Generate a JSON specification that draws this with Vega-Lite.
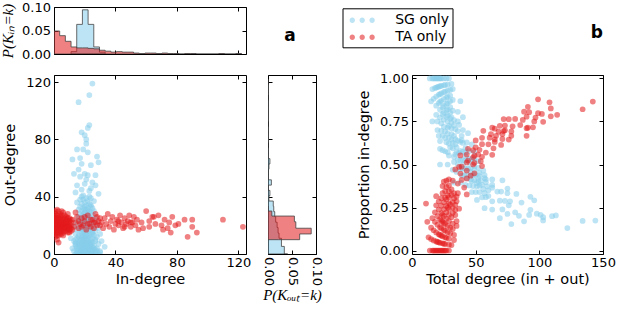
{
"$schema":"https://vega.github.io/schema/vega-lite/v6.json",
"background":"white",
"padding":{"left":0,"top":0,"right":0,"bottom":0},
"autosize":{"type":"pad"},
"columns":3,
"bounds":"flush",
"align":"each",
"spacing":{"row":21,"column":22},
"resolve":{"scale":{"color":"independent"},"legend":{"color":"independent"}},
"config":{
  "view":{"stroke":"black","strokeWidth":1},
  "axis":{"domain":false,"grid":false,"tickColor":"black","tickSize":4,"tickWidth":1,"labelFont":"DejaVu Sans","labelFontSize":13,"labelColor":"black","titleFont":"DejaVu Sans","titleFontSize":14.5,"titleFontWeight":"normal","titleColor":"black","labelFlush":false,"labelOverlap":false,"labelBound":false},
  "axisX":{"labelPadding":2.5,"titlePadding":3},
  "axisY":{"labelPadding":3.5,"titlePadding":8},
  "title":{"font":"DejaVu Sans","fontSize":17,"fontWeight":"bold","color":"black"}
},
"datasets":{
"hin":[
{"g":"SG only","k":11.1,"p":0.005},{"g":"SG only","k":14.8,"p":0.063},{"g":"SG only","k":18.5,"p":0.094},{"g":"SG only","k":22.2,"p":0.063},{"g":"SG only","k":25.9,"p":0.015},{"g":"SG only","k":29.6,"p":0.004},{"g":"SG only","k":33.3,"p":0},
{"g":"TA only","k":0,"p":0.049},{"g":"TA only","k":3.7,"p":0.039},{"g":"TA only","k":7.4,"p":0.027},{"g":"TA only","k":11.1,"p":0.015},{"g":"TA only","k":14.8,"p":0.013},{"g":"TA only","k":18.5,"p":0.013},{"g":"TA only","k":22.2,"p":0.012},{"g":"TA only","k":25.9,"p":0.011},{"g":"TA only","k":29.6,"p":0.008},{"g":"TA only","k":33.3,"p":0.006},{"g":"TA only","k":37,"p":0.004},{"g":"TA only","k":40.7,"p":0.005},{"g":"TA only","k":44.4,"p":0.004},{"g":"TA only","k":48.1,"p":0.004},{"g":"TA only","k":51.8,"p":0.002},{"g":"TA only","k":55.5,"p":0.001},{"g":"TA only","k":59.2,"p":0.002},{"g":"TA only","k":62.9,"p":0.002},{"g":"TA only","k":66.6,"p":0.001},{"g":"TA only","k":70.3,"p":0.002},{"g":"TA only","k":74,"p":0.001},{"g":"TA only","k":77.7,"p":0.001},{"g":"TA only","k":81.4,"p":0},{"g":"TA only","k":85.1,"p":0.001},{"g":"TA only","k":88.8,"p":0.001},{"g":"TA only","k":92.5,"p":0},{"g":"TA only","k":107.3,"p":0.001},{"g":"TA only","k":111,"p":0},{"g":"TA only","k":118.4,"p":0.001},{"g":"TA only","k":122.1,"p":0}
],
"hout":[
{"g":"SG only","k":0,"p":0.041},{"g":"SG only","k":5.3,"p":0.034},{"g":"SG only","k":11,"p":0.028},{"g":"SG only","k":14.6,"p":0.023},{"g":"SG only","k":18.5,"p":0.021},{"g":"SG only","k":22.2,"p":0.019},{"g":"SG only","k":26,"p":0.016},{"g":"SG only","k":29.6,"p":0.014},{"g":"SG only","k":33.3,"p":0.012},{"g":"SG only","k":37,"p":0.011},{"g":"SG only","k":40.7,"p":0.002},{"g":"SG only","k":44.4,"p":0.004},{"g":"SG only","k":48.1,"p":0.001},{"g":"SG only","k":51.8,"p":0.007},{"g":"SG only","k":55.5,"p":0.001},{"g":"SG only","k":59.2,"p":0.001},{"g":"SG only","k":62.9,"p":0.002},{"g":"SG only","k":66.6,"p":0.004},{"g":"SG only","k":70.3,"p":0.001},{"g":"SG only","k":74,"p":0.001},{"g":"SG only","k":77.7,"p":0},{"g":"SG only","k":81.4,"p":0.001},{"g":"SG only","k":85.1,"p":0.001},{"g":"SG only","k":88.8,"p":0.001},{"g":"SG only","k":92.5,"p":0},{"g":"SG only","k":103.6,"p":0.001},{"g":"SG only","k":107.3,"p":0.001},{"g":"SG only","k":111,"p":0},{"g":"SG only","k":118.4,"p":0.001},{"g":"SG only","k":122.1,"p":0},
{"g":"TA only","k":10,"p":0.022},{"g":"TA only","k":14,"p":0.066},{"g":"TA only","k":18,"p":0.09},{"g":"TA only","k":22.5,"p":0.058},{"g":"TA only","k":26.5,"p":0.055},{"g":"TA only","k":30,"p":0.008},{"g":"TA only","k":33.5,"p":0}
],
"leg":[{"g":"SG only"},{"g":"TA only"}],
"pts":[
{"g":"SG only","i":25,"o":119,"t":144,"p":0.174},{"g":"SG only","i":23,"o":111,"t":134,"p":0.172},{"g":"SG only","i":16,"o":106,"t":122,"p":0.131},{"g":"SG only","i":23,"o":90,"t":113,"p":0.204},{"g":"SG only","i":22,"o":88,"t":110,"p":0.2},{"g":"SG only","i":18,"o":85,"t":103,"p":0.175},{"g":"SG only","i":20,"o":83,"t":103,"p":0.194},{"g":"SG only","i":21,"o":80,"t":101,"p":0.208},{"g":"SG only","i":21,"o":77,"t":98,"p":0.214},{"g":"SG only","i":15,"o":73,"t":88,"p":0.17},{"g":"SG only","i":19,"o":73,"t":92,"p":0.207},{"g":"SG only","i":22,"o":71,"t":93,"p":0.237},{"g":"SG only","i":12,"o":66,"t":78,"p":0.154},{"g":"SG only","i":17,"o":67,"t":84,"p":0.202},{"g":"SG only","i":28,"o":68,"t":96,"p":0.292},{"g":"SG only","i":29,"o":64,"t":93,"p":0.312},{"g":"SG only","i":18,"o":63,"t":81,"p":0.222},{"g":"SG only","i":24,"o":62,"t":86,"p":0.279},{"g":"SG only","i":13,"o":56,"t":69,"p":0.188},{"g":"SG only","i":20,"o":56,"t":76,"p":0.263},{"g":"SG only","i":22,"o":55,"t":77,"p":0.286},{"g":"SG only","i":17,"o":54,"t":71,"p":0.239},{"g":"SG only","i":27,"o":55,"t":82,"p":0.329},{"g":"SG only","i":21,"o":52,"t":73,"p":0.288},{"g":"SG only","i":15,"o":48,"t":63,"p":0.238},{"g":"SG only","i":20,"o":49,"t":69,"p":0.29},{"g":"SG only","i":27,"o":48,"t":75,"p":0.36},{"g":"SG only","i":24,"o":46,"t":70,"p":0.343},{"g":"SG only","i":18,"o":45,"t":63,"p":0.286},{"g":"SG only","i":23,"o":44,"t":67,"p":0.343},{"g":"SG only","i":14,"o":43,"t":57,"p":0.246},{"g":"SG only","i":29,"o":42,"t":71,"p":0.408},{"g":"SG only","i":19,"o":41,"t":60,"p":0.317},{"g":"SG only","i":25,"o":50,"t":75,"p":0.333},{"g":"SG only","i":16,"o":59,"t":75,"p":0.213},
{"g":"SG only","i":14,"o":0,"t":14,"p":1},{"g":"SG only","i":18,"o":0,"t":18,"p":1},{"g":"SG only","i":20,"o":0,"t":20,"p":1},{"g":"SG only","i":22,"o":0,"t":22,"p":1},{"g":"SG only","i":25,"o":0,"t":25,"p":1},
{"g":"SG only","i":15,"o":1,"t":16,"p":0.938},{"g":"SG only","i":19,"o":1,"t":20,"p":0.95},{"g":"SG only","i":21,"o":1,"t":22,"p":0.955},{"g":"SG only","i":24,"o":1,"t":25,"p":0.96},{"g":"SG only","i":27,"o":1,"t":28,"p":0.964},
{"g":"SG only","i":13,"o":2,"t":15,"p":0.867},{"g":"SG only","i":17,"o":2,"t":19,"p":0.895},{"g":"SG only","i":20,"o":2,"t":22,"p":0.909},{"g":"SG only","i":23,"o":2,"t":25,"p":0.92},{"g":"SG only","i":26,"o":2,"t":28,"p":0.929},{"g":"SG only","i":30,"o":2,"t":32,"p":0.938},
{"g":"SG only","i":16,"o":3,"t":19,"p":0.842},{"g":"SG only","i":19,"o":3,"t":22,"p":0.864},{"g":"SG only","i":22,"o":3,"t":25,"p":0.88},{"g":"SG only","i":25,"o":3,"t":28,"p":0.893},
{"g":"SG only","i":12,"o":4,"t":16,"p":0.75},{"g":"SG only","i":18,"o":4,"t":22,"p":0.818},{"g":"SG only","i":21,"o":4,"t":25,"p":0.84},{"g":"SG only","i":24,"o":4,"t":28,"p":0.857},{"g":"SG only","i":28,"o":4,"t":32,"p":0.875},
{"g":"SG only","i":15,"o":5,"t":20,"p":0.75},{"g":"SG only","i":20,"o":5,"t":25,"p":0.8},{"g":"SG only","i":23,"o":5,"t":28,"p":0.821},{"g":"SG only","i":33,"o":5,"t":38,"p":0.868},
{"g":"SG only","i":17,"o":6,"t":23,"p":0.739},{"g":"SG only","i":19,"o":6,"t":25,"p":0.76},{"g":"SG only","i":22,"o":6,"t":28,"p":0.786},{"g":"SG only","i":26,"o":6,"t":32,"p":0.813},
{"g":"SG only","i":14,"o":7,"t":21,"p":0.667},{"g":"SG only","i":21,"o":7,"t":28,"p":0.75},{"g":"SG only","i":24,"o":7,"t":31,"p":0.774},{"g":"SG only","i":29,"o":7,"t":36,"p":0.806},
{"g":"SG only","i":18,"o":8,"t":26,"p":0.692},{"g":"SG only","i":20,"o":8,"t":28,"p":0.714},{"g":"SG only","i":23,"o":8,"t":31,"p":0.742},{"g":"SG only","i":16,"o":8,"t":24,"p":0.667},
{"g":"SG only","i":13,"o":9,"t":22,"p":0.591},{"g":"SG only","i":19,"o":9,"t":28,"p":0.679},{"g":"SG only","i":22,"o":9,"t":31,"p":0.71},{"g":"SG only","i":27,"o":9,"t":36,"p":0.75},{"g":"SG only","i":31,"o":9,"t":40,"p":0.775},
{"g":"SG only","i":17,"o":10,"t":27,"p":0.63},{"g":"SG only","i":21,"o":10,"t":31,"p":0.677},{"g":"SG only","i":24,"o":10,"t":34,"p":0.706},
{"g":"SG only","i":15,"o":11,"t":26,"p":0.577},{"g":"SG only","i":20,"o":11,"t":31,"p":0.645},{"g":"SG only","i":25,"o":11,"t":36,"p":0.694},{"g":"SG only","i":11,"o":11,"t":22,"p":0.5},
{"g":"SG only","i":18,"o":12,"t":30,"p":0.6},{"g":"SG only","i":22,"o":12,"t":34,"p":0.647},{"g":"SG only","i":28,"o":12,"t":40,"p":0.7},
{"g":"SG only","i":16,"o":13,"t":29,"p":0.552},{"g":"SG only","i":19,"o":13,"t":32,"p":0.594},{"g":"SG only","i":23,"o":13,"t":36,"p":0.639},{"g":"SG only","i":26,"o":13,"t":39,"p":0.667},
{"g":"SG only","i":14,"o":14,"t":28,"p":0.5},{"g":"SG only","i":21,"o":14,"t":35,"p":0.6},{"g":"SG only","i":24,"o":14,"t":38,"p":0.632},{"g":"SG only","i":30,"o":14,"t":44,"p":0.682},
{"g":"SG only","i":18,"o":15,"t":33,"p":0.545},{"g":"SG only","i":20,"o":15,"t":35,"p":0.571},{"g":"SG only","i":25,"o":15,"t":40,"p":0.625},
{"g":"SG only","i":17,"o":16,"t":33,"p":0.515},{"g":"SG only","i":22,"o":16,"t":38,"p":0.579},{"g":"SG only","i":27,"o":16,"t":43,"p":0.628},
{"g":"SG only","i":15,"o":17,"t":32,"p":0.469},{"g":"SG only","i":19,"o":17,"t":36,"p":0.528},{"g":"SG only","i":23,"o":17,"t":40,"p":0.575},
{"g":"SG only","i":20,"o":18,"t":38,"p":0.526},{"g":"SG only","i":24,"o":18,"t":42,"p":0.571},{"g":"SG only","i":29,"o":18,"t":47,"p":0.617},
{"g":"SG only","i":16,"o":19,"t":35,"p":0.457},{"g":"SG only","i":21,"o":19,"t":40,"p":0.525},{"g":"SG only","i":26,"o":19,"t":45,"p":0.578},
{"g":"SG only","i":18,"o":20,"t":38,"p":0.474},{"g":"SG only","i":22,"o":20,"t":42,"p":0.524},{"g":"SG only","i":13,"o":20,"t":33,"p":0.394},
{"g":"SG only","i":19,"o":21,"t":40,"p":0.475},{"g":"SG only","i":24,"o":21,"t":45,"p":0.533},{"g":"SG only","i":28,"o":21,"t":49,"p":0.571},
{"g":"SG only","i":17,"o":22,"t":39,"p":0.436},{"g":"SG only","i":20,"o":22,"t":42,"p":0.476},{"g":"SG only","i":23,"o":22,"t":45,"p":0.511},
{"g":"SG only","i":15,"o":23,"t":38,"p":0.395},{"g":"SG only","i":21,"o":23,"t":44,"p":0.477},{"g":"SG only","i":26,"o":23,"t":49,"p":0.531},
{"g":"SG only","i":19,"o":24,"t":43,"p":0.442},{"g":"SG only","i":22,"o":24,"t":46,"p":0.478},
{"g":"SG only","i":18,"o":25,"t":43,"p":0.419},{"g":"SG only","i":24,"o":25,"t":49,"p":0.49},{"g":"SG only","i":27,"o":25,"t":52,"p":0.519},
{"g":"SG only","i":16,"o":26,"t":42,"p":0.381},{"g":"SG only","i":20,"o":26,"t":46,"p":0.435},{"g":"SG only","i":23,"o":26,"t":49,"p":0.469},
{"g":"SG only","i":21,"o":27,"t":48,"p":0.438},{"g":"SG only","i":25,"o":27,"t":52,"p":0.481},
{"g":"SG only","i":17,"o":28,"t":45,"p":0.378},{"g":"SG only","i":19,"o":28,"t":47,"p":0.404},{"g":"SG only","i":22,"o":28,"t":50,"p":0.44},
{"g":"SG only","i":20,"o":29,"t":49,"p":0.408},{"g":"SG only","i":24,"o":29,"t":53,"p":0.453},
{"g":"SG only","i":18,"o":30,"t":48,"p":0.375},{"g":"SG only","i":23,"o":30,"t":53,"p":0.434},{"g":"SG only","i":26,"o":30,"t":56,"p":0.464},
{"g":"SG only","i":16,"o":31,"t":47,"p":0.34},{"g":"SG only","i":21,"o":31,"t":52,"p":0.404},
{"g":"SG only","i":19,"o":32,"t":51,"p":0.373},{"g":"SG only","i":22,"o":32,"t":54,"p":0.407},{"g":"SG only","i":25,"o":32,"t":57,"p":0.439},
{"g":"SG only","i":17,"o":33,"t":50,"p":0.34},{"g":"SG only","i":20,"o":33,"t":53,"p":0.377},
{"g":"SG only","i":21,"o":34,"t":55,"p":0.382},{"g":"SG only","i":24,"o":34,"t":58,"p":0.414},
{"g":"SG only","i":18,"o":35,"t":53,"p":0.34},{"g":"SG only","i":23,"o":35,"t":58,"p":0.397},
{"g":"SG only","i":15,"o":36,"t":51,"p":0.294},{"g":"SG only","i":20,"o":36,"t":56,"p":0.357},
{"g":"SG only","i":22,"o":37,"t":59,"p":0.373},{"g":"SG only","i":26,"o":37,"t":63,"p":0.413},
{"g":"SG only","i":19,"o":38,"t":57,"p":0.333},{"g":"SG only","i":17,"o":38,"t":55,"p":0.309},
{"g":"SG only","i":21,"o":39,"t":60,"p":0.35},{"g":"SG only","i":24,"o":39,"t":63,"p":0.381},
{"g":"SG only","i":18,"o":40,"t":58,"p":0.31},{"g":"SG only","i":23,"o":40,"t":63,"p":0.365},
{"g":"SG only","i":16,"o":0,"t":16,"p":1},{"g":"SG only","i":17,"o":0,"t":17,"p":1},{"g":"SG only","i":21,"o":0,"t":21,"p":1},{"g":"SG only","i":23,"o":0,"t":23,"p":1},{"g":"SG only","i":27,"o":0,"t":27,"p":1},{"g":"SG only","i":19,"o":0,"t":19,"p":1},{"g":"SG only","i":29,"o":0,"t":29,"p":1},
{"g":"SG only","i":17,"o":1,"t":18,"p":0.944},{"g":"SG only","i":18,"o":1,"t":19,"p":0.947},{"g":"SG only","i":22,"o":1,"t":23,"p":0.957},{"g":"SG only","i":20,"o":1,"t":21,"p":0.952},{"g":"SG only","i":25,"o":1,"t":26,"p":0.962},{"g":"SG only","i":30,"o":1,"t":31,"p":0.968},
{"g":"SG only","i":15,"o":2,"t":17,"p":0.882},{"g":"SG only","i":19,"o":2,"t":21,"p":0.905},{"g":"SG only","i":21,"o":2,"t":23,"p":0.913},{"g":"SG only","i":24,"o":2,"t":26,"p":0.923},{"g":"SG only","i":28,"o":2,"t":30,"p":0.933},
{"g":"SG only","i":18,"o":3,"t":21,"p":0.857},{"g":"SG only","i":20,"o":3,"t":23,"p":0.87},{"g":"SG only","i":24,"o":3,"t":27,"p":0.889},{"g":"SG only","i":27,"o":3,"t":30,"p":0.9},
{"g":"SG only","i":15,"o":4,"t":19,"p":0.789},{"g":"SG only","i":20,"o":4,"t":24,"p":0.833},{"g":"SG only","i":23,"o":4,"t":27,"p":0.852},{"g":"SG only","i":26,"o":4,"t":30,"p":0.867},
{"g":"SG only","i":17,"o":5,"t":22,"p":0.773},{"g":"SG only","i":22,"o":5,"t":27,"p":0.815},{"g":"SG only","i":25,"o":5,"t":30,"p":0.833},{"g":"SG only","i":19,"o":5,"t":24,"p":0.792},
{"g":"SG only","i":14,"o":6,"t":20,"p":0.7},{"g":"SG only","i":21,"o":6,"t":27,"p":0.778},{"g":"SG only","i":24,"o":6,"t":30,"p":0.8},
{"g":"SG only","i":18,"o":7,"t":25,"p":0.72},{"g":"SG only","i":23,"o":7,"t":30,"p":0.767},{"g":"SG only","i":16,"o":7,"t":23,"p":0.696},
{"g":"SG only","i":21,"o":8,"t":29,"p":0.724},{"g":"SG only","i":25,"o":8,"t":33,"p":0.758},{"g":"SG only","i":14,"o":8,"t":22,"p":0.636},
{"g":"SG only","i":17,"o":9,"t":26,"p":0.654},{"g":"SG only","i":24,"o":9,"t":33,"p":0.727},
{"g":"SG only","i":19,"o":10,"t":29,"p":0.655},{"g":"SG only","i":14,"o":10,"t":24,"p":0.583},{"g":"SG only","i":27,"o":10,"t":37,"p":0.73},
{"g":"SG only","i":22,"o":11,"t":33,"p":0.667},{"g":"SG only","i":18,"o":11,"t":29,"p":0.621},
{"g":"SG only","i":20,"o":12,"t":32,"p":0.625},{"g":"SG only","i":16,"o":12,"t":28,"p":0.571},
{"g":"SG only","i":21,"o":13,"t":34,"p":0.618},{"g":"SG only","i":25,"o":14,"t":39,"p":0.641},{"g":"SG only","i":19,"o":15,"t":34,"p":0.559},{"g":"SG only","i":21,"o":16,"t":37,"p":0.568},{"g":"SG only","i":25,"o":17,"t":42,"p":0.595},{"g":"SG only","i":18,"o":18,"t":36,"p":0.5},{"g":"SG only","i":23,"o":19,"t":42,"p":0.548},{"g":"SG only","i":20,"o":20,"t":40,"p":0.5},{"g":"SG only","i":25,"o":22,"t":47,"p":0.532},{"g":"SG only","i":18,"o":23,"t":41,"p":0.439},{"g":"SG only","i":21,"o":25,"t":46,"p":0.457},{"g":"SG only","i":19,"o":27,"t":46,"p":0.413},{"g":"SG only","i":22,"o":30,"t":52,"p":0.423},{"g":"SG only","i":20,"o":31,"t":51,"p":0.392},{"g":"SG only","i":24,"o":33,"t":57,"p":0.421},
{"g":"TA only","i":0,"o":14,"t":14,"p":0},{"g":"TA only","i":0,"o":17,"t":17,"p":0},{"g":"TA only","i":0,"o":19,"t":19,"p":0},{"g":"TA only","i":0,"o":21,"t":21,"p":0},{"g":"TA only","i":0,"o":22,"t":22,"p":0},{"g":"TA only","i":0,"o":24,"t":24,"p":0},{"g":"TA only","i":0,"o":26,"t":26,"p":0},{"g":"TA only","i":0,"o":29,"t":29,"p":0},
{"g":"TA only","i":1,"o":12,"t":13,"p":0.077},{"g":"TA only","i":1,"o":16,"t":17,"p":0.059},{"g":"TA only","i":1,"o":18,"t":19,"p":0.053},{"g":"TA only","i":1,"o":20,"t":21,"p":0.048},{"g":"TA only","i":1,"o":23,"t":24,"p":0.042},{"g":"TA only","i":1,"o":25,"t":26,"p":0.038},{"g":"TA only","i":1,"o":28,"t":29,"p":0.034},
{"g":"TA only","i":2,"o":15,"t":17,"p":0.118},{"g":"TA only","i":2,"o":19,"t":21,"p":0.095},{"g":"TA only","i":2,"o":21,"t":23,"p":0.087},{"g":"TA only","i":2,"o":22,"t":24,"p":0.083},{"g":"TA only","i":2,"o":24,"t":26,"p":0.077},{"g":"TA only","i":2,"o":27,"t":29,"p":0.069},{"g":"TA only","i":2,"o":31,"t":33,"p":0.061},{"g":"TA only","i":2,"o":10,"t":12,"p":0.167},
{"g":"TA only","i":3,"o":13,"t":16,"p":0.188},{"g":"TA only","i":3,"o":17,"t":20,"p":0.15},{"g":"TA only","i":3,"o":20,"t":23,"p":0.13},{"g":"TA only","i":3,"o":23,"t":26,"p":0.115},{"g":"TA only","i":3,"o":25,"t":28,"p":0.107},{"g":"TA only","i":3,"o":30,"t":33,"p":0.091},{"g":"TA only","i":3,"o":8,"t":11,"p":0.273},
{"g":"TA only","i":4,"o":16,"t":20,"p":0.2},{"g":"TA only","i":4,"o":18,"t":22,"p":0.182},{"g":"TA only","i":4,"o":21,"t":25,"p":0.16},{"g":"TA only","i":4,"o":22,"t":26,"p":0.154},{"g":"TA only","i":4,"o":26,"t":30,"p":0.133},{"g":"TA only","i":4,"o":28,"t":32,"p":0.125},
{"g":"TA only","i":5,"o":14,"t":19,"p":0.263},{"g":"TA only","i":5,"o":19,"t":24,"p":0.208},{"g":"TA only","i":5,"o":20,"t":25,"p":0.2},{"g":"TA only","i":5,"o":24,"t":29,"p":0.172},{"g":"TA only","i":5,"o":27,"t":32,"p":0.156},
{"g":"TA only","i":6,"o":15,"t":21,"p":0.286},{"g":"TA only","i":6,"o":17,"t":23,"p":0.261},{"g":"TA only","i":6,"o":21,"t":27,"p":0.222},{"g":"TA only","i":6,"o":23,"t":29,"p":0.207},{"g":"TA only","i":6,"o":29,"t":35,"p":0.171},
{"g":"TA only","i":7,"o":18,"t":25,"p":0.28},{"g":"TA only","i":7,"o":20,"t":27,"p":0.259},{"g":"TA only","i":7,"o":22,"t":29,"p":0.241},{"g":"TA only","i":7,"o":25,"t":32,"p":0.219},
{"g":"TA only","i":8,"o":16,"t":24,"p":0.333},{"g":"TA only","i":8,"o":19,"t":27,"p":0.296},{"g":"TA only","i":8,"o":24,"t":32,"p":0.25},{"g":"TA only","i":8,"o":26,"t":34,"p":0.235},{"g":"TA only","i":8,"o":21,"t":29,"p":0.276},
{"g":"TA only","i":9,"o":17,"t":26,"p":0.346},{"g":"TA only","i":9,"o":20,"t":29,"p":0.31},{"g":"TA only","i":9,"o":23,"t":32,"p":0.281},{"g":"TA only","i":9,"o":28,"t":37,"p":0.243},
{"g":"TA only","i":10,"o":15,"t":25,"p":0.4},{"g":"TA only","i":10,"o":21,"t":31,"p":0.323},{"g":"TA only","i":10,"o":25,"t":35,"p":0.286},{"g":"TA only","i":10,"o":19,"t":29,"p":0.345},
{"g":"TA only","i":11,"o":18,"t":29,"p":0.379},{"g":"TA only","i":11,"o":22,"t":33,"p":0.333},{"g":"TA only","i":11,"o":20,"t":31,"p":0.355},
{"g":"TA only","i":0,"o":16,"t":16,"p":0},{"g":"TA only","i":0,"o":20,"t":20,"p":0},{"g":"TA only","i":0,"o":23,"t":23,"p":0},{"g":"TA only","i":0,"o":25,"t":25,"p":0},{"g":"TA only","i":0,"o":18,"t":18,"p":0},{"g":"TA only","i":0,"o":27,"t":27,"p":0},
{"g":"TA only","i":1,"o":14,"t":15,"p":0.067},{"g":"TA only","i":1,"o":21,"t":22,"p":0.045},{"g":"TA only","i":1,"o":24,"t":25,"p":0.04},{"g":"TA only","i":1,"o":19,"t":20,"p":0.05},{"g":"TA only","i":1,"o":30,"t":31,"p":0.032},
{"g":"TA only","i":2,"o":17,"t":19,"p":0.105},{"g":"TA only","i":2,"o":20,"t":22,"p":0.091},{"g":"TA only","i":2,"o":25,"t":27,"p":0.074},{"g":"TA only","i":2,"o":13,"t":15,"p":0.133},
{"g":"TA only","i":3,"o":15,"t":18,"p":0.167},{"g":"TA only","i":3,"o":19,"t":22,"p":0.136},{"g":"TA only","i":3,"o":22,"t":25,"p":0.12},{"g":"TA only","i":3,"o":27,"t":30,"p":0.1},
{"g":"TA only","i":4,"o":14,"t":18,"p":0.222},{"g":"TA only","i":4,"o":20,"t":24,"p":0.167},{"g":"TA only","i":4,"o":24,"t":28,"p":0.143},{"g":"TA only","i":4,"o":19,"t":23,"p":0.174},
{"g":"TA only","i":5,"o":16,"t":21,"p":0.238},{"g":"TA only","i":5,"o":22,"t":27,"p":0.185},{"g":"TA only","i":5,"o":30,"t":35,"p":0.143},{"g":"TA only","i":5,"o":18,"t":23,"p":0.217},
{"g":"TA only","i":6,"o":19,"t":25,"p":0.24},{"g":"TA only","i":6,"o":25,"t":31,"p":0.194},{"g":"TA only","i":6,"o":13,"t":19,"p":0.316},
{"g":"TA only","i":7,"o":16,"t":23,"p":0.304},{"g":"TA only","i":7,"o":21,"t":28,"p":0.25},{"g":"TA only","i":7,"o":27,"t":34,"p":0.206},
{"g":"TA only","i":8,"o":18,"t":26,"p":0.308},{"g":"TA only","i":8,"o":22,"t":30,"p":0.267},
{"g":"TA only","i":9,"o":15,"t":24,"p":0.375},{"g":"TA only","i":9,"o":25,"t":34,"p":0.265},{"g":"TA only","i":9,"o":19,"t":28,"p":0.321},
{"g":"TA only","i":10,"o":23,"t":33,"p":0.303},{"g":"TA only","i":10,"o":17,"t":27,"p":0.37},
{"g":"TA only","i":11,"o":24,"t":35,"p":0.314},{"g":"TA only","i":11,"o":16,"t":27,"p":0.407},
{"g":"TA only","i":12,"o":24,"t":36,"p":0.333},{"g":"TA only","i":13,"o":19,"t":32,"p":0.406},{"g":"TA only","i":14,"o":22,"t":36,"p":0.389},{"g":"TA only","i":15,"o":26,"t":41,"p":0.366},{"g":"TA only","i":16,"o":18,"t":34,"p":0.471},{"g":"TA only","i":17,"o":21,"t":38,"p":0.447},{"g":"TA only","i":18,"o":25,"t":43,"p":0.419},{"g":"TA only","i":19,"o":20,"t":39,"p":0.487},{"g":"TA only","i":20,"o":23,"t":43,"p":0.465},{"g":"TA only","i":21,"o":17,"t":38,"p":0.553},{"g":"TA only","i":22,"o":27,"t":49,"p":0.449},{"g":"TA only","i":23,"o":21,"t":44,"p":0.523},{"g":"TA only","i":24,"o":19,"t":43,"p":0.558},{"g":"TA only","i":25,"o":24,"t":49,"p":0.51},{"g":"TA only","i":26,"o":22,"t":48,"p":0.542},{"g":"TA only","i":27,"o":28,"t":55,"p":0.491},{"g":"TA only","i":28,"o":20,"t":48,"p":0.583},{"g":"TA only","i":29,"o":23,"t":52,"p":0.558},{"g":"TA only","i":30,"o":25,"t":55,"p":0.545},{"g":"TA only","i":12,"o":17,"t":29,"p":0.414},{"g":"TA only","i":14,"o":29,"t":43,"p":0.326},{"g":"TA only","i":16,"o":23,"t":39,"p":0.41},{"g":"TA only","i":18,"o":19,"t":37,"p":0.486},{"g":"TA only","i":20,"o":26,"t":46,"p":0.435},{"g":"TA only","i":22,"o":21,"t":43,"p":0.512},{"g":"TA only","i":24,"o":24,"t":48,"p":0.5},{"g":"TA only","i":26,"o":18,"t":44,"p":0.591},{"g":"TA only","i":28,"o":26,"t":54,"p":0.519},{"g":"TA only","i":30,"o":20,"t":50,"p":0.6},{"g":"TA only","i":27,"o":22,"t":49,"p":0.551},
{"g":"TA only","i":31,"o":22,"t":53,"p":0.585},{"g":"TA only","i":32,"o":18,"t":50,"p":0.64},{"g":"TA only","i":33,"o":25,"t":58,"p":0.569},{"g":"TA only","i":34,"o":21,"t":55,"p":0.618},{"g":"TA only","i":35,"o":28,"t":63,"p":0.556},{"g":"TA only","i":36,"o":19,"t":55,"p":0.655},{"g":"TA only","i":37,"o":23,"t":60,"p":0.617},{"g":"TA only","i":38,"o":26,"t":64,"p":0.594},{"g":"TA only","i":39,"o":17,"t":56,"p":0.696},{"g":"TA only","i":40,"o":21,"t":61,"p":0.656},{"g":"TA only","i":41,"o":24,"t":65,"p":0.631},{"g":"TA only","i":42,"o":20,"t":62,"p":0.677},{"g":"TA only","i":43,"o":27,"t":70,"p":0.614},{"g":"TA only","i":44,"o":22,"t":66,"p":0.667},{"g":"TA only","i":45,"o":18,"t":63,"p":0.714},{"g":"TA only","i":46,"o":25,"t":71,"p":0.648},{"g":"TA only","i":47,"o":21,"t":68,"p":0.691},{"g":"TA only","i":48,"o":23,"t":71,"p":0.676},{"g":"TA only","i":49,"o":27,"t":76,"p":0.645},{"g":"TA only","i":50,"o":19,"t":69,"p":0.725},{"g":"TA only","i":51,"o":22,"t":73,"p":0.699},{"g":"TA only","i":52,"o":26,"t":78,"p":0.667},{"g":"TA only","i":53,"o":20,"t":73,"p":0.726},{"g":"TA only","i":54,"o":24,"t":78,"p":0.692},{"g":"TA only","i":55,"o":17,"t":72,"p":0.764},{"g":"TA only","i":42,"o":23,"t":65,"p":0.646},{"g":"TA only","i":46,"o":19,"t":65,"p":0.708},{"g":"TA only","i":50,"o":22,"t":72,"p":0.694},
{"g":"TA only","i":57,"o":22,"t":79,"p":0.722},{"g":"TA only","i":60,"o":30,"t":90,"p":0.667},{"g":"TA only","i":62,"o":23,"t":85,"p":0.729},{"g":"TA only","i":64,"o":26,"t":90,"p":0.711},{"g":"TA only","i":65,"o":26,"t":91,"p":0.714},{"g":"TA only","i":58,"o":18,"t":76,"p":0.763},{"g":"TA only","i":66,"o":21,"t":87,"p":0.759},{"g":"TA only","i":70,"o":20,"t":90,"p":0.778},{"g":"TA only","i":71,"o":17,"t":88,"p":0.807},{"g":"TA only","i":72,"o":24,"t":96,"p":0.75},{"g":"TA only","i":75,"o":22,"t":97,"p":0.773},{"g":"TA only","i":77,"o":26,"t":103,"p":0.748},{"g":"TA only","i":74,"o":18,"t":92,"p":0.804},{"g":"TA only","i":79,"o":20,"t":99,"p":0.798},{"g":"TA only","i":81,"o":21,"t":102,"p":0.794},{"g":"TA only","i":85,"o":24,"t":109,"p":0.78},{"g":"TA only","i":87,"o":12,"t":99,"p":0.879},{"g":"TA only","i":90,"o":19,"t":109,"p":0.826},{"g":"TA only","i":90,"o":24,"t":114,"p":0.789},{"g":"TA only","i":93,"o":15,"t":108,"p":0.861},{"g":"TA only","i":110,"o":24,"t":134,"p":0.821},{"g":"TA only","i":123,"o":19,"t":142,"p":0.866},{"g":"TA only","i":68,"o":27,"t":95,"p":0.716},{"g":"TA only","i":62,"o":19,"t":81,"p":0.765},{"g":"TA only","i":76,"o":15,"t":91,"p":0.835}
]
},
"concat":[
{
 "width":192,"height":47,
 "data":{"name":"hin"},
 "layer":[
  {"mark":{"type":"area","interpolate":"step-after","fillOpacity":0.55,"stroke":"#444","strokeWidth":0.8,"clip":true},
   "encoding":{
     "x":{"field":"k","type":"quantitative","scale":{"domain":[0,125],"nice":false,"zero":false},"axis":{"values":[0,40,80,120],"labels":false,"title":null,"offset":-4}},
     "y":{"field":"p","type":"quantitative","stack":null,"scale":{"domain":[0,0.1],"nice":false},"axis":{"values":[0,0.05,0.1],"format":".2f","offset":-4,"title":"P(Kᵢₙ=k)","titleFont":"Liberation Serif","titleFontStyle":"italic","titleFontSize":15,"titlePadding":6}},
     "fill":{"field":"g","type":"nominal","scale":{"domain":["SG only","TA only"],"range":["#87ceeb","#e41a1c"]},"legend":null}
   }},
  {"mark":{"type":"point","opacity":0},
   "encoding":{
     "x":{"field":"k","type":"quantitative","axis":{"orient":"top","values":[0,40,80,120],"labels":false,"title":null,"offset":-4}},
     "y":{"field":"p","type":"quantitative","axis":{"orient":"right","values":[0,0.05,0.1],"labels":false,"title":null,"offset":-4}}
   }}
 ],
 "resolve":{"axis":{"x":"independent","y":"independent"}}
},
{"width":121.5,"height":47,"data":{"name":"leg"},"view":{"stroke":null},
 "mark":{"type":"circle","opacity":0},
 "encoding":{"color":{"field":"g","type":"nominal","scale":{"domain":["SG only","TA only"],"range":["#87ceeb","#e41a1c"]},
   "legend":{"orient":"none","legendX":74.5,"legendY":1.3,"title":null,"direction":"vertical","symbolType":"M-1.4,0a0.3,0.3 0 1,0 0.6,0a0.3,0.3 0 1,0 -0.6,0M-0.3,0a0.3,0.3 0 1,0 0.6,0a0.3,0.3 0 1,0 -0.6,0M0.8,0a0.3,0.3 0 1,0 0.6,0a0.3,0.3 0 1,0 -0.6,0","symbolSize":324,"symbolOpacity":0.55,"symbolStrokeWidth":0,"symbolOffset":7.7,"labelOffset":24,"labelFont":"DejaVu Sans","labelFontSize":14,"labelColor":"black","padding":3,"rowPadding":1,"strokeColor":"black","fillColor":"white"}}}
},
{"width":1,"height":47,"data":{"values":[]},"mark":{"type":"point","opacity":0},"view":{"stroke":null}},
{
 "width":192,"height":179,
 "data":{"name":"pts"},
 "layer":[
  {"mark":{"type":"circle","size":33,"opacity":0.55,"clip":true},
   "encoding":{
     "x":{"field":"i","type":"quantitative","scale":{"domain":[0,125],"nice":false,"zero":false},"axis":{"values":[0,40,80,120],"offset":-4,"title":"In-degree"}},
     "y":{"field":"o","type":"quantitative","scale":{"domain":[0,125],"nice":false,"zero":false},"axis":{"values":[0,40,80,120],"offset":-4,"title":"Out-degree"}},
     "color":{"field":"g","type":"nominal","scale":{"domain":["SG only","TA only"],"range":["#87ceeb","#e41a1c"]},"legend":null}
   }},
  {"mark":{"type":"point","opacity":0},
   "encoding":{
     "x":{"field":"i","type":"quantitative","axis":{"orient":"top","values":[0,40,80,120],"labels":false,"title":null,"offset":-4}},
     "y":{"field":"o","type":"quantitative","axis":{"orient":"right","values":[0,40,80,120],"labels":false,"title":null,"offset":-4}}
   }}
 ],
 "resolve":{"axis":{"x":"independent","y":"independent"}}
},
{
 "width":48,"height":179,
 "data":{"name":"hout"},
 "title":{"text":"a","anchor":"middle","frame":"group","offset":17,"baseline":"alphabetic","dx":-2},
 "layer":[
  {"mark":{"type":"area","orient":"horizontal","interpolate":"step-before","fillOpacity":0.55,"stroke":"#444","strokeWidth":0.8,"clip":true},
   "encoding":{
     "y":{"field":"k","type":"quantitative","scale":{"domain":[0,125],"nice":false,"zero":false},"axis":{"values":[0,40,80,120],"labels":false,"title":null,"offset":-4}},
     "x":{"field":"p","type":"quantitative","stack":null,"scale":{"domain":[0,0.1],"nice":false},"axis":{"values":[0,0.05,0.1],"format":".2f","labelAngle":90,"offset":-4,"title":"P(Kₒᵤₜ=k)","titleFont":"Liberation Serif","titleFontStyle":"italic","titleFontSize":15,"titlePadding":2}},
     "fill":{"field":"g","type":"nominal","scale":{"domain":["SG only","TA only"],"range":["#87ceeb","#e41a1c"]},"legend":null}
   }},
  {"mark":{"type":"point","opacity":0},
   "encoding":{
     "y":{"field":"k","type":"quantitative","axis":{"orient":"right","values":[0,40,80,120],"labels":false,"title":null,"offset":-4}},
     "x":{"field":"p","type":"quantitative","axis":{"orient":"top","values":[0,0.05,0.1],"labels":false,"title":null,"offset":-4}}
   }}
 ],
 "resolve":{"axis":{"x":"independent","y":"independent"}}
},
{
 "width":191,"height":179,
 "data":{"name":"pts"},
 "title":{"text":"b","anchor":"end","frame":"group","offset":17,"baseline":"alphabetic"},
 "layer":[
  {"mark":{"type":"circle","size":33,"opacity":0.55},
   "encoding":{
     "x":{"field":"t","type":"quantitative","scale":{"domain":[0,150],"nice":false,"zero":false},"axis":{"values":[0,50,100,150],"offset":-4,"title":"Total degree (in + out)"}},
     "y":{"field":"p","type":"quantitative","scale":{"domain":[-0.02,1.02],"nice":false,"zero":false},"axis":{"values":[0,0.25,0.5,0.75,1],"format":".2f","offset":-4,"title":"Proportion in-degree"}},
     "fill":{"field":"g","type":"nominal","scale":{"domain":["SG only","TA only"],"range":["#87ceeb","#e41a1c"]},"legend":null}
   }},
  {"mark":{"type":"point","opacity":0},
   "encoding":{
     "x":{"field":"t","type":"quantitative","axis":{"orient":"top","values":[0,50,100,150],"labels":false,"title":null,"offset":-4}},
     "y":{"field":"p","type":"quantitative","axis":{"orient":"right","values":[0,0.25,0.5,0.75,1],"labels":false,"title":null,"offset":-4}}
   }}
 ],
 "resolve":{"axis":{"x":"independent","y":"independent"}}
}
]
}
